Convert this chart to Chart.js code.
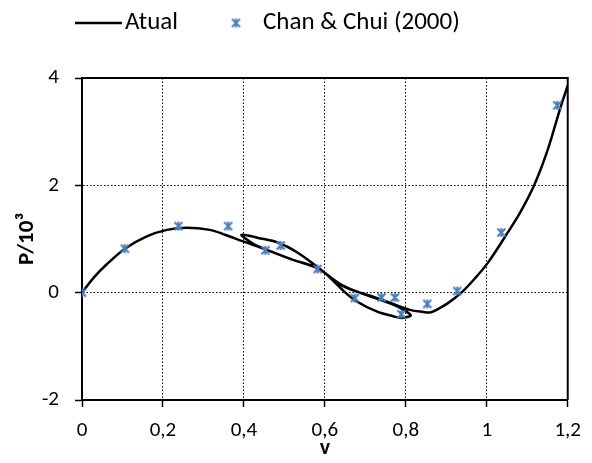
<!DOCTYPE html>
<html>
<head>
<meta charset="utf-8">
<script src="https://cdn.jsdelivr.net/npm/chart.js@4.4.1/dist/chart.umd.min.js"></script>
<style>
	html,body{margin:0;padding:0;background:#fff}
	#wrap{width:592px;height:463px;position:relative}
</style>
</head>
<body>
<div id="wrap"><canvas id="chart"></canvas></div>
<script>
// curva "Atual" (percurso com laço)
const curveV = [0, 0.03, 0.06, 0.106, 0.16, 0.21, 0.258, 0.316, 0.353, 0.40, 0.452, 0.518, 0.583, 0.604, 0.645, 0.678, 0.728, 0.769, 0.789, 0.806, 0.812,
	0.795, 0.769, 0.728, 0.645, 0.583, 0.534, 0.485, 0.435, 0.394,
	0.419, 0.452, 0.518, 0.583, 0.645, 0.728, 0.769, 0.81, 0.843, 0.86, 0.876, 0.905, 0.937, 0.97, 1.003, 1.05, 1.083, 1.117, 1.15, 1.182, 1.2];
const curveP = [0, 0.29, 0.52, 0.82, 1.05, 1.17, 1.21, 1.17, 1.08, 0.95, 0.81, 0.62, 0.45, 0.34, 0.04, -0.16, -0.35, -0.44, -0.47, -0.45, -0.42,
	-0.32, -0.22, -0.11, 0.13, 0.47, 0.74, 0.93, 1.02, 1.08,
	0.93, 0.81, 0.62, 0.45, 0.12, -0.10, -0.21, -0.32, -0.36, -0.37, -0.32, -0.19, 0, 0.26, 0.56, 1.1, 1.5, 2.0, 2.65, 3.45, 3.86];

// pontos Chan & Chui (2000)
const chanV = [0, 0.106, 0.238, 0.361, 0.453, 0.491, 0.582, 0.674, 0.740, 0.773, 0.789, 0.853, 0.927, 1.036, 1.174];
const chanP = [0, 0.82, 1.24, 1.24, 0.79, 0.88, 0.44, -0.10, -0.09, -0.09, -0.40, -0.21, 0.03, 1.12, 3.49];

const xTicks = [0, 0.2, 0.4, 0.6, 0.8, 1, 1.2];
const yTicks = [-2, 0, 2, 4];
const labelAtual = 'Atual';
const labelChan = 'Chan & Chui (2000)';

const FONT = 'Carlito, Lato, "Open Sans", sans-serif';
const BLUE = '#4a7ebb';

// marcador estrela do Excel (X + barra vertical)
function starMarker(){
	const c = document.createElement('canvas'); c.width = 11; c.height = 11;
	const g = c.getContext('2d');
	g.strokeStyle = BLUE; g.lineWidth = 2; g.lineCap = 'butt';
	g.beginPath();
	g.moveTo(1.5,1.5); g.lineTo(9.5,9.5);
	g.moveTo(9.5,1.5); g.lineTo(1.5,9.5);
	g.moveTo(5.5,1); g.lineTo(5.5,10);
	g.stroke();
	return c;
}
const marker = starMarker();

const frame = {
	id: 'frame',
	beforeDatasetsDraw(chart){
		const {ctx, chartArea:{left,right,top,bottom}} = chart;
		ctx.save();
		ctx.strokeStyle = '#000'; ctx.lineWidth = 2;
		ctx.beginPath();
		ctx.moveTo(left, top); ctx.lineTo(right, top); ctx.lineTo(right, bottom);
		ctx.stroke();
		ctx.restore();
	}
};

const legendTop = {
	id: 'legendTop',
	afterDraw(chart){
		const ctx = chart.ctx;
		const y = 23;
		ctx.save();
		ctx.strokeStyle = '#000'; ctx.lineWidth = 2.5;
		ctx.beginPath(); ctx.moveTo(75, y); ctx.lineTo(122, y); ctx.stroke();
		ctx.fillStyle = '#000';
		ctx.font = '25px ' + FONT;
		ctx.textBaseline = 'middle'; ctx.textAlign = 'left';
		ctx.fillText(labelAtual, 125, y);
		ctx.drawImage(marker, 236 - 5.5, y - 5.5);
		ctx.fillText(labelChan, 263, y);
		ctx.restore();
	}
};

const fmt = v => String(Math.round(v*10)/10).replace('.', ',');

new Chart(document.getElementById('chart'), {
	type: 'scatter',
	data: {
		datasets: [
			{ label: labelChan, data: chanV.map((v,i)=>({x:v, y:chanP[i]})), pointStyle: marker, pointRadius: 5, order: 0 },
			{ label: labelAtual, data: curveV.map((v,i)=>({x:v, y:curveP[i]})), showLine: true, borderColor: '#000', borderWidth: 2.5, pointRadius: 0, tension: 0.35, order: 1 }
		]
	},
	options: {
		responsive: true, maintainAspectRatio: false, animation: false,
		layout: { padding: { top: 78, right: 24, bottom: 0, left: 0 } },
		plugins: { legend: { display: false }, tooltip: { enabled: false } },
		scales: {
			x: {
				type: 'linear', min: 0, max: 1.2,
				afterBuildTicks(s){ s.ticks = xTicks.map(v=>({value:v})); },
				afterFit(s){ s.height = 63; },
				grid: { color: '#000', lineWidth: 1, tickLength: 7, tickColor: '#000', tickBorderDash: [], tickWidth: 1.5 },
				border: { display: true, color: '#000', width: 2, dash: [1.5, 2] },
				ticks: { color: '#000', font: { family: FONT, size: 21 }, padding: 11, maxRotation: 0, callback: v => fmt(v) },
				title: { display: true, text: 'v', color: '#000', font: { family: FONT, size: 22, weight: 'bold' }, padding: { top: 0, bottom: 1 } }
			},
			y: {
				type: 'linear', min: -2, max: 4,
				afterBuildTicks(s){ s.ticks = yTicks.map(v=>({value:v})); },
				afterFit(s){ s.width = 82; },
				grid: { color: '#000', lineWidth: 1, tickLength: 7, tickColor: '#000', tickBorderDash: [], tickWidth: 1.5 },
				border: { display: true, color: '#000', width: 2, dash: [1.5, 2] },
				ticks: { color: '#000', font: { family: FONT, size: 21 }, padding: 16, callback: v => String(v) },
				title: { display: true, text: 'P/10³', color: '#000', font: { family: FONT, size: 23, weight: 'bold' }, padding: { top: 13, bottom: 0 } }
			}
		}
	},
	plugins: [frame, legendTop]
});
</script>
</body>
</html>
